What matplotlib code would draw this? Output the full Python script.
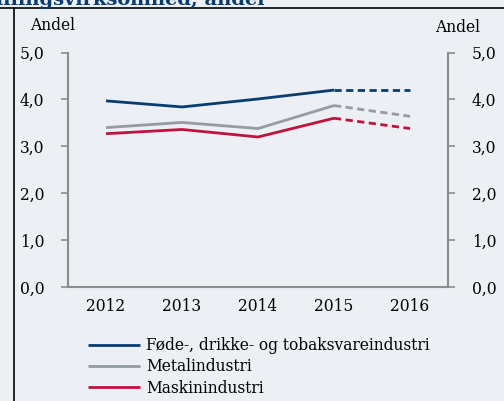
import matplotlib
matplotlib.use('Agg')
import matplotlib.pyplot as plt
from matplotlib.lines import Line2D

years = ['2012', '2013', '2014', '2015', '2016']
fode = [3.97, 3.84, 4.01, 4.20, 4.20]
metal = [3.40, 3.51, 3.38, 3.87, 3.64]
maskin = [3.27, 3.36, 3.20, 3.60, 3.38]
labels = ['Føde-, drikke- og tobaksvareindustri', 'Metalindustri', 'Maskinindustri']
colors = ['#0a3d6f', '#949ca4', '#c1123d']

bg = '#eceff3'
plt.rcParams['font.family'] = ['DejaVu Serif']
fontsize = 11.2

fig = plt.figure(figsize=(5.04, 4.01), dpi=100, facecolor=bg)
ax = fig.add_axes([0.135, 0.284, 0.754, 0.585], facecolor=bg)

x = list(range(len(years)))
for series, color, label in zip([fode, metal, maskin], colors, labels):
    # actual values up to 2015, forecast for 2016 dashed
    ax.plot(x[:4], series[:4], color=color, lw=2.0, label=label, solid_capstyle='butt')
    ax.plot(x[3:], series[3:], color=color, lw=2.0, dashes=(2.6, 1.6))

ax.set_xlim(-0.5, 4.5)
ax.set_ylim(0, 5)
ax.set_xticks(x)
ax.set_xticklabels(years, fontsize=fontsize)
ax.tick_params(axis='x', length=0, pad=8)
ax.set_yticks([0, 1, 2, 3, 4, 5])
ax.set_yticklabels([('%.1f' % v).replace('.', ',') for v in range(6)])
ax.tick_params(axis='y', direction='out', length=5, width=1.2, color='#8c8c8c',
               pad=12, left=True, right=True, labelleft=True, labelright=True,
               labelsize=fontsize)

for side in ['left', 'right', 'bottom']:
    ax.spines[side].set_color('#8c8c8c')
    ax.spines[side].set_linewidth(1.5)
ax.spines['top'].set_visible(False)

fig.text(30 / 504, 1 - 25 / 401, 'Andel', fontsize=fontsize, va='center', ha='left')
fig.text(480 / 504, 1 - 27 / 401, 'Andel', fontsize=fontsize, va='center', ha='right')

# heading (runs off the top edge) and frame lines
fig.text(265 / 504, 1 - 5 / 401, 'Forskning i fremstillingsvirksomhed, andel', fontsize=14,
         fontweight='bold', color='#0a3d6f', ha='right', va='baseline')
fig.add_artist(Line2D([0, 1], [1 - 8 / 401, 1 - 8 / 401], color='black', lw=1.2,
                      transform=fig.transFigure))
fig.add_artist(Line2D([14 / 504, 14 / 504], [0, 1 - 8 / 401], color='black', lw=1.2,
                      transform=fig.transFigure))

leg = fig.legend(loc='upper left', bbox_to_anchor=(82 / 504, 1 - 331 / 401),
                 frameon=False, fontsize=fontsize, handlelength=3.3,
                 handletextpad=0.4, labelspacing=0.27, borderaxespad=0)

fig.savefig('out.png', dpi=100, facecolor=bg)
